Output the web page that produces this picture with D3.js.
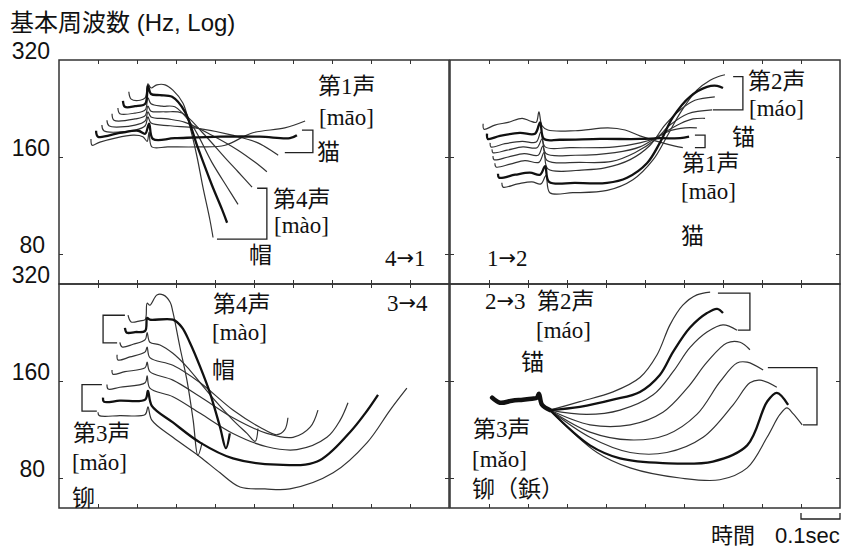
<!DOCTYPE html>
<html><head><meta charset="utf-8">
<script src="https://cdn.jsdelivr.net/npm/d3@7"></script>
<style>body{margin:0;background:#fff}</style>
</head><body><svg id="c" width="845" height="547"></svg>
<script>
// time (s, 0..1 per panel) and F0 (Hz) pairs
const timeTicks = [0.1,0.2,0.3,0.4,0.5,0.6,0.7,0.8,0.9];
const hzTicks = [320,160,80];

// Panel 1: 4 -> 1
const p1a = [[0.179,255],[0.185,242],[0.208,240],[0.221,244],[0.228,270],[0.236,262],[0.251,268],[0.272,268],[0.292,258],[0.318,235],[0.336,198],[0.354,160],[0.369,129],[0.387,102],[0.395,90]];
const p1b = [[0.164,239],[0.169,229],[0.195,230],[0.221,234],[0.228,266],[0.236,251],[0.259,249],[0.290,246],[0.323,221],[0.356,171],[0.392,131],[0.418,110],[0.431,100]];
const p1c = [[0.151,227],[0.156,218],[0.195,219],[0.221,224],[0.228,244],[0.236,234],[0.264,230],[0.297,229],[0.341,201],[0.392,154],[0.433,128],[0.459,114]];
const p1d = [[0.136,218],[0.141,208],[0.195,210],[0.221,215],[0.228,230],[0.236,222],[0.272,221],[0.315,219],[0.367,191],[0.426,159],[0.459,144],[0.495,129]];
const p1e = [[0.123,208],[0.128,200],[0.195,201],[0.221,207],[0.228,221],[0.236,213],[0.279,210],[0.323,205],[0.392,187],[0.459,168],[0.503,154],[0.533,144]];
const p1f = [[0.110,201],[0.115,193],[0.195,194],[0.221,200],[0.228,213],[0.236,204],[0.285,200],[0.349,197],[0.444,187],[0.510,177],[0.562,162]];
const p1g = [[0.095,193],[0.100,185],[0.156,190],[0.203,193],[0.221,189],[0.231,203],[0.241,182],[0.297,183],[0.413,185],[0.515,185],[0.592,183],[0.610,187]];
const p1h = [[0.082,182],[0.085,174],[0.105,178],[0.190,187],[0.215,185],[0.226,179],[0.231,191],[0.238,172],[0.279,172],[0.362,172],[0.426,174],[0.495,190],[0.579,197],[0.631,207]];

// Panel 2: 1 -> 2
const p2a = [[0.085,203],[0.087,195],[0.115,201],[0.149,205],[0.185,211],[0.205,207],[0.221,205],[0.228,221],[0.236,200],[0.251,194],[0.321,193],[0.405,197],[0.449,194],[0.487,186],[0.538,178],[0.577,173],[0.597,171]];
const p2b = [[0.095,189],[0.097,182],[0.128,186],[0.179,190],[0.218,189],[0.231,205],[0.241,182],[0.282,181],[0.385,182],[0.487,182],[0.538,183],[0.590,183],[0.613,185]];
const p2c = [[0.103,177],[0.105,172],[0.141,176],[0.185,179],[0.221,178],[0.233,191],[0.244,172],[0.308,171],[0.423,172],[0.487,177],[0.526,183],[0.564,193],[0.603,197],[0.633,197]];
const p2d = [[0.108,169],[0.110,165],[0.146,168],[0.187,172],[0.223,171],[0.236,182],[0.246,164],[0.321,162],[0.423,165],[0.487,172],[0.538,187],[0.590,203],[0.623,210],[0.654,211]];
const p2e = [[0.110,161],[0.113,157],[0.149,160],[0.190,164],[0.226,162],[0.238,173],[0.249,156],[0.333,154],[0.415,155],[0.474,165],[0.526,181],[0.564,201],[0.610,218],[0.672,224]];
const p2f = [[0.115,153],[0.118,149],[0.154,152],[0.192,156],[0.228,154],[0.241,165],[0.251,147],[0.346,146],[0.397,148],[0.462,157],[0.513,174],[0.551,201],[0.590,224],[0.628,240],[0.679,246]];
const p2g = [[0.123,142],[0.126,138],[0.167,141],[0.205,143],[0.231,141],[0.244,150],[0.254,134],[0.321,133],[0.403,133],[0.454,138],[0.505,153],[0.538,177],[0.572,213],[0.615,246],[0.659,264],[0.685,266],[0.700,262]];
const p2h = [[0.133,133],[0.136,129],[0.174,132],[0.210,134],[0.233,132],[0.246,140],[0.256,124],[0.315,124],[0.403,126],[0.469,136],[0.521,157],[0.556,185],[0.590,219],[0.633,258],[0.667,277],[0.687,284],[0.705,288]];

// Panel 3: 3 -> 4
const p3a = [[0.177,256],[0.185,244],[0.208,246],[0.221,248],[0.226,279],[0.233,275],[0.251,296],[0.267,296],[0.285,281],[0.292,262],[0.310,204],[0.328,161],[0.344,121],[0.356,94],[0.367,103]];
const p3b = [[0.169,234],[0.174,226],[0.195,227],[0.221,229],[0.226,251],[0.233,248],[0.292,248],[0.315,235],[0.336,210],[0.362,177],[0.387,147],[0.413,115],[0.428,99],[0.438,110]];
const p3c = [[0.156,211],[0.162,204],[0.190,208],[0.221,215],[0.226,226],[0.233,211],[0.259,207],[0.292,195],[0.328,177],[0.362,158],[0.405,137],[0.446,121],[0.482,110],[0.503,104],[0.510,114]];
const p3d = [[0.149,193],[0.151,186],[0.182,190],[0.221,197],[0.226,204],[0.233,189],[0.292,179],[0.362,158],[0.446,130],[0.515,115],[0.559,109],[0.579,113],[0.587,123]];
const p3e = [[0.136,173],[0.138,168],[0.169,171],[0.221,176],[0.226,183],[0.233,171],[0.292,161],[0.362,143],[0.446,123],[0.533,110],[0.600,107],[0.644,115],[0.664,130]];
const p3f = [[0.123,156],[0.126,151],[0.156,153],[0.221,158],[0.226,166],[0.233,152],[0.292,143],[0.362,127],[0.446,110],[0.533,100],[0.610,98],[0.687,107],[0.721,121],[0.741,137]];
const p3g = [[0.113,142],[0.115,138],[0.156,139],[0.221,140],[0.228,149],[0.238,134],[0.292,119],[0.362,103],[0.446,92],[0.559,88],[0.662,90],[0.746,111],[0.785,127],[0.818,145]];
const p3h = [[0.100,128],[0.103,125],[0.156,125],[0.221,126],[0.228,133],[0.238,121],[0.292,107],[0.362,93],[0.413,83],[0.464,75],[0.528,74],[0.592,74],[0.703,83],[0.790,103],[0.849,130],[0.892,152]];

// Panel 4: 2 -> 3
const p4blob = [[0.108,142],[0.128,137],[0.159,139],[0.187,140],[0.210,141],[0.223,142],[0.228,146],[0.236,135],[0.256,130]];
const p4a = [[0.256,130],[0.333,138],[0.418,148],[0.487,164],[0.531,193],[0.564,239],[0.597,275],[0.633,296],[0.667,302]];
const p4b = [[0.256,130],[0.333,133],[0.418,140],[0.487,148],[0.538,167],[0.572,197],[0.615,234],[0.659,260],[0.685,268],[0.700,260]];
const p4c = [[0.256,130],[0.351,126],[0.436,130],[0.521,145],[0.572,171],[0.615,203],[0.659,227],[0.700,239],[0.736,230]];
const p4d = [[0.256,130],[0.359,117],[0.462,117],[0.546,128],[0.608,152],[0.659,183],[0.710,210],[0.744,211],[0.769,200]];
const p4e = [[0.256,130],[0.359,111],[0.462,105],[0.556,109],[0.633,126],[0.692,159],[0.736,182],[0.762,183],[0.803,173]];
const p4f = [[0.256,130],[0.359,107],[0.462,96],[0.556,96],[0.649,107],[0.726,135],[0.769,158],[0.795,161],[0.838,153]];
const p4g = [[0.256,130],[0.359,101],[0.436,92],[0.546,89],[0.674,90],[0.762,101],[0.813,138],[0.838,147],[0.867,135]];
const p4h = [[0.256,130],[0.377,96],[0.462,86],[0.590,80],[0.692,79],[0.762,86],[0.813,107],[0.846,126],[0.864,132],[0.879,127],[0.903,117]];

// bracket annotations
const b1a = [[0.623,194],[0.651,194],[0.651,165],[0.579,165]];
const b1b = [[0.508,128],[0.533,128],[0.533,89],[0.405,89]];
const b2a = [[0.726,284],[0.751,284],[0.751,224],[0.674,224]];
const b2b = [[0.628,187],[0.654,187],[0.654,171],[0.628,171]];
const b3a = [[0.169,256],[0.113,256],[0.113,210],[0.149,210]];
const b3b = [[0.110,156],[0.059,156],[0.059,129],[0.097,129]];
const b4a = [[0.687,300],[0.769,300],[0.769,230],[0.738,230]];
const b4b = [[0.815,176],[0.941,176],[0.941,117],[0.905,117]];

const panels = [
  {x0:59,  y0:60,  thin:[p1a,p1c,p1d,p1e,p1f,p1h], thick:[p1b,p1g], br:[b1a,b1b]},
  {x0:450, y0:60,  thin:[p2a,p2c,p2d,p2e,p2f,p2h], thick:[p2b,p2g], br:[b2a,b2b]},
  {x0:59,  y0:284, thin:[p3a,p3c,p3d,p3e,p3f,p3h], thick:[p3b,p3g], br:[b3a,b3b]},
  {x0:450, y0:284, thin:[p4a,p4c,p4d,p4e,p4f,p4h], thick:[p4b,p4g], br:[b4a,b4b], blob:p4blob}
];

const labels = [
  ["第1声",318,94],["[māo]",319,125],["猫",317,160],["第4声",273,207],["[mào]",274,233],["帽",249,263],
  ["第2声",748,89],["[máo]",749,116],["锚",732,145],["第1声",682,171],["[māo]",681,199],["猫",681,244],
  ["第4声",213,312],["[mào]",212,340],["帽",212,378],["第3声",73,441],["[mǎo]",72,470],["铆",72,506],
  ["第2声",537,309],["[máo]",536,338],["锚",521,370],["第3声",473,437],["[mǎo]",472,467],["铆（鋲）",472,497]
];
const arrows = [["4","1",385,266],["1","2",487,266],["3","4",387,311],["2","3",485,309]];

const PW = 390, PH = 224;
const svg = d3.select('#c');
const x = d3.scaleLinear().domain([0,1]).range([0,PW]);
const y = d3.scaleLog().domain([80,320]).range([194,0]);
const line = d3.line().x(d=>x(d[0])).y(d=>y(d[1])).curve(d3.curveCatmullRom.alpha(0.5));
const lineL = d3.line().x(d=>x(d[0])).y(d=>y(d[1]));
const SANS = "'Liberation Sans', Arial, 'Noto Sans CJK JP', sans-serif";
const SERIF = "'Liberation Serif', 'Times New Roman', 'Noto Sans CJK JP', serif";

svg.append('text').attr('x',10).attr('y',31).attr('font-family',SANS).attr('font-size',24)
  .attr('fill','#111').text('基本周波数 (Hz, Log)');

panels.forEach((p,i)=>{
  const g = svg.append('g').attr('transform',`translate(${p.x0},${p.y0})`);
  const axT = d3.axisTop(x).tickValues(timeTicks).tickSize(-4).tickFormat('');
  const axB = d3.axisBottom(x).tickValues(timeTicks).tickSize(-4).tickFormat('');
  const axL = d3.axisLeft(y).tickValues([160,80]).tickSize(-4).tickFormat('');
  const axR = d3.axisRight(y).tickValues([160,80]).tickSize(-4).tickFormat('');
  [[axT,0,0],[axB,0,PH],[axL,0,0],[axR,PW,0]].forEach(([ax,tx,ty])=>{
    const a = g.append('g').attr('transform',`translate(${tx},${ty})`).call(ax);
    a.select('.domain').remove();
    a.selectAll('line').attr('stroke','#333').attr('stroke-width',1);
  });
  g.append('rect').attr('x',0).attr('y',0).attr('width',PW).attr('height',PH)
    .attr('fill','none').attr('stroke','#333').attr('stroke-width',1.5);
  p.thin.forEach(c=>g.append('path').attr('d',line(c)).attr('fill','none')
    .attr('stroke','#333').attr('stroke-width',1.2).attr('stroke-linejoin','round'));
  p.thick.forEach(c=>g.append('path').attr('d',line(c)).attr('fill','none')
    .attr('stroke','#111').attr('stroke-width',2.3).attr('stroke-linejoin','round'));
  if (p.blob) g.append('path').attr('d',line(p.blob)).attr('fill','none')
    .attr('stroke','#111').attr('stroke-width',4.5).attr('stroke-linecap','round');
  p.br.forEach(b=>g.append('path').attr('d',lineL(b)).attr('fill','none')
    .attr('stroke','#222').attr('stroke-width',1.3));
  if (p.x0 < 100) {
    hzTicks.forEach(v=>{
      svg.append('text').attr('x', v===80?45:50).attr('y', p.y0 + y(v) - 1)
        .attr('text-anchor','end').attr('font-family',SANS).attr('font-size',23)
        .attr('fill','#111').text(v);
    });
  }
  if (i===3) {
    const sb = g.append('g').attr('transform',`translate(0,${PH+11})`);
    sb.append('path').attr('d',`M${x(0.9)},-6V0H${x(1.0)}V-6`).attr('fill','none')
      .attr('stroke','#222').attr('stroke-width',1.3);
  }
});

labels.forEach(([t,lx,ly])=>{
  svg.append('text').attr('x',lx).attr('y',ly).attr('font-family',SERIF)
    .attr('font-size',23).attr('fill','#111').text(t);
});
arrows.forEach(([a,b,lx,ly])=>{
  const t = svg.append('text').attr('x',lx).attr('y',ly).attr('font-family',SERIF)
    .attr('font-size',23).attr('fill','#111');
  t.append('tspan').text(a);
  t.append('tspan').attr('font-family',"'DejaVu Sans', sans-serif").attr('font-size',21).attr('dy',-1).text('→');
  t.append('tspan').attr('dy',1).text(b);
});
svg.append('text').attr('x',711).attr('y',543).attr('font-family',SANS).attr('font-size',22).attr('fill','#111').text('時間');
svg.append('text').attr('x',775).attr('y',543).attr('font-family',SANS).attr('font-size',22).attr('fill','#111').text('0.1sec');
</script></body></html>
